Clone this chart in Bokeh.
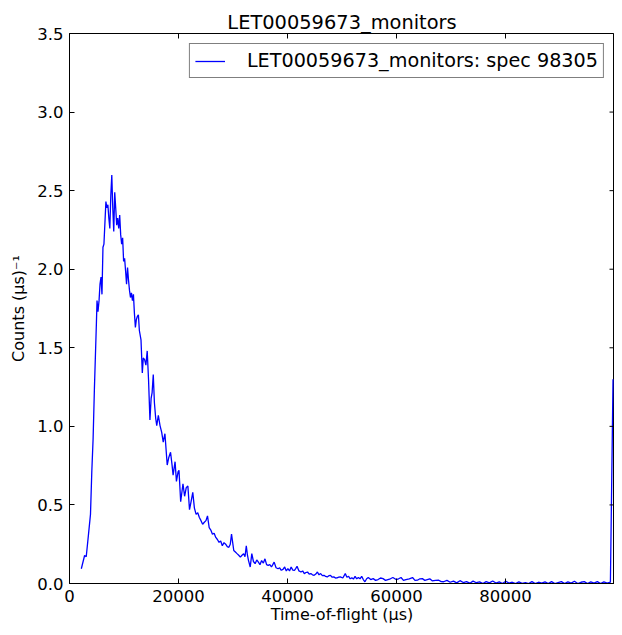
import math
from bokeh.plotting import figure
from bokeh.models import ColumnDataSource, Range1d, FixedTicker, NumeralTickFormatter
from bokeh.embed import file_html
from bokeh.resources import INLINE

# ---- data ----
tof = [
    2170, 2770, 3070, 3490, 3850, 4090, 4330, 4570, 4750, 4930, 5050, 5230, 5420, 5600,
    5780, 5960, 6140, 6320, 6680, 6860, 7040, 7220, 7400, 7580, 7760, 7940, 8120, 8300,
    8480, 8660, 8840, 9030, 9210, 9390, 9570, 9750, 9930, 10110, 10290, 10470, 10650,
    10830, 11010, 11190, 11370, 11550, 11730, 11910, 12090, 12270, 12450, 12640, 12820,
    13120, 13360, 13540, 13780, 14020, 14260, 14500, 14760, 14980, 15160, 15370, 15580,
    15820, 16010, 16300, 16610, 16910, 17200, 17510, 17930, 18200, 18540, 18800, 19010,
    19370, 19620, 19920, 20090, 20400, 20820, 21120, 21420, 21720, 22020, 22300, 22620,
    22920, 23230, 23530, 23830, 24130, 24430, 24740, 25040, 25320, 25630, 25930, 26230,
    26540, 26840, 27140, 27440, 27740, 28040, 28350, 28650, 28950, 29240, 29500, 29730,
    30140, 30440, 30740, 31050, 31350, 31650, 31950, 32200, 32440, 32650, 32850, 33160,
    33450, 33750, 34060, 34360, 34660, 34950, 35250, 35570, 35870, 36160, 36460, 36760,
    37060, 37300, 37550, 37900, 38270, 38560, 38860, 39170, 39480, 39780, 40070, 40370,
    40670, 40980, 41280, 41500, 41750, 42100, 42470, 42780, 43090, 43380, 43680, 43980,
    44280, 44580, 44890, 45190, 45490, 45780, 46080, 46400, 46700, 47000, 47290, 47590,
    47890, 48200, 48500, 48800, 49100, 49400, 49690, 50150, 50600, 50900, 51210, 51500,
    51800, 52100, 52400, 52700, 53010, 53310, 53610, 53910, 54210, 54520, 54820, 55270,
    55720, 56170, 56620, 57070, 57530, 57980, 58430, 58880, 59330, 59930, 60380, 60830,
    61280, 61730, 62340, 62940, 63390, 63840, 64290, 64740, 65200, 65650, 66100, 66550,
    67150, 67750, 68200, 68650,
    69250, 69850, 70450, 71050, 71650, 72250, 72850, 73450, 74050, 74650, 75250, 75850,
    76450, 77050, 77650, 78250, 78850, 79450, 80050, 80650, 81250, 81850, 82450, 83050,
    83650, 84250, 84850, 85450, 86050, 86650, 87250, 87850, 88450, 89050, 89650, 90250,
    90850, 91450, 92050, 92650, 93250, 93850, 94450, 95050, 95650, 96250, 96850, 97450,
    98050, 98650, 99250, 99730,
]
counts = [
    0.094, 0.178, 0.17, 0.314, 0.44, 0.71, 0.92, 1.24, 1.445, 1.65, 1.80, 1.73, 1.80, 1.905,
    1.95, 1.84, 2.14, 2.16, 2.43, 2.39, 2.41, 2.325, 2.26, 2.47, 2.60, 2.39, 2.24, 2.49,
    2.39, 2.28, 2.325, 2.26, 2.345, 2.22, 2.16, 2.20, 2.05, 2.07, 1.99, 1.905, 2.01,
    1.93, 1.865, 1.82, 1.85, 1.80, 1.84, 1.72, 1.63, 1.68, 1.70, 1.71, 1.61,
    1.55, 1.34, 1.435, 1.425, 1.39, 1.48, 1.30, 1.04, 1.18, 1.215, 1.33, 1.15,
    1.05, 1.005, 1.07, 1.005, 0.963, 0.90, 0.953, 0.754, 0.80, 0.835, 0.76, 0.69,
    0.775, 0.65, 0.71, 0.72, 0.52, 0.635, 0.555, 0.61, 0.62, 0.47, 0.52, 0.58,
    0.48, 0.44, 0.45, 0.42, 0.40, 0.377, 0.39, 0.40, 0.43, 0.356, 0.34, 0.314,
    0.32, 0.293, 0.28, 0.262, 0.27, 0.24, 0.26, 0.25, 0.235, 0.23, 0.25, 0.314,
    0.21, 0.20, 0.19, 0.18, 0.168, 0.18, 0.19, 0.17, 0.24, 0.18, 0.146, 0.105,
    0.19, 0.14, 0.126, 0.15, 0.136, 0.12, 0.146, 0.13, 0.157, 0.12, 0.115, 0.12,
    0.105, 0.12, 0.136, 0.10, 0.094, 0.10, 0.084, 0.09, 0.105, 0.08, 0.094, 0.08,
    0.105, 0.085, 0.084, 0.095, 0.109, 0.08, 0.073, 0.08, 0.063, 0.07, 0.073, 0.06,
    0.063, 0.055, 0.052, 0.06, 0.073, 0.055, 0.063, 0.05, 0.052, 0.045, 0.042, 0.05,
    0.052, 0.04, 0.042, 0.035, 0.036, 0.04, 0.042, 0.035, 0.063, 0.04, 0.046, 0.03,
    0.036, 0.028, 0.046, 0.03, 0.038, 0.03, 0.046, 0.025, 0.011, 0.03, 0.038, 0.025,
    0.031, 0.02, 0.025, 0.035, 0.031, 0.02, 0.025, 0.03, 0.038, 0.025, 0.03, 0.038,
    0.02, 0.025, 0.03, 0.038, 0.02, 0.021, 0.03, 0.031, 0.02, 0.025, 0.03, 0.017,
    0.02, 0.021, 0.012, 0.011,
    0.02, 0.008, 0.015, 0.004, 0.018, 0.006, 0.012, 0.002, 0.015, 0.005, 0.01, 0.0,
    0.012, 0.004, 0.016, 0.003, 0.01, 0.0, 0.014, 0.002, 0.008, 0.0, 0.01, 0.001,
    0.006, 0.0, 0.012, 0.0, 0.008, 0.002, 0.01, 0.0, 0.012, 0.0, 0.006, 0.012,
    0.0, 0.01, 0.002, 0.014, 0.0, 0.008, 0.012, 0.0, 0.01, 0.002, 0.012, 0.0,
    0.01, 0.002, 0.008, 1.3,
]
x_ticks = [0, 20000, 40000, 60000, 80000]
y_ticks = [0.0, 0.5, 1.0, 1.5, 2.0, 2.5, 3.0, 3.5]
title_text = "LET00059673_monitors"
series_label = "LET00059673_monitors: spec 98305"
x_label = "Time-of-flight (\u03bcs)"
y_label = "Counts (\u03bcs)\u207b\u00b9"

FONT = "DejaVu Sans"
X_MAX = 100000
Y_MAX = 3.5

source = ColumnDataSource(data=dict(x=tof, y=counts))

p = figure(width=614, height=627, output_backend="svg", toolbar_location=None,
           x_range=Range1d(0, X_MAX), y_range=Range1d(0, Y_MAX),
           min_border_left=69, min_border_right=0, min_border_top=33,
           min_border_bottom=44, title=title_text)

p.line("x", "y", source=source, line_color="#0000ff", line_width=1.3,
       legend_label=series_label)

p.xgrid.visible = False
p.ygrid.visible = False
p.outline_line_color = "black"
p.outline_line_width = 1
p.background_fill_color = "white"
p.border_fill_color = "white"

p.title.text_font = FONT
p.title.text_font_size = "19.4px"
p.title.text_font_style = "normal"
p.title.text_color = "black"
p.title.align = "center"
p.title.standoff = 0

for ax, ticks in ((p.xaxis[0], x_ticks), (p.yaxis[0], y_ticks)):
    ax.ticker = FixedTicker(ticks=ticks)
    ax.major_tick_in = 5
    ax.major_tick_out = 0
    ax.minor_tick_in = 0
    ax.minor_tick_out = 0
    ax.major_label_text_font = FONT
    ax.major_label_text_font_size = "16.5px"
    ax.major_label_text_color = "black"
    ax.axis_label_text_font = FONT
    ax.axis_label_text_font_size = "16px"
    ax.axis_label_text_font_style = "normal"
    ax.axis_label_text_color = "black"
    ax.axis_line_color = "black"

p.xaxis[0].formatter = NumeralTickFormatter(format="0")
p.yaxis[0].formatter = NumeralTickFormatter(format="0.0")
p.xaxis[0].axis_label = x_label
p.yaxis[0].axis_label = y_label
p.xaxis[0].major_label_standoff = 6
p.yaxis[0].major_label_standoff = 6
p.xaxis[0].axis_label_standoff = 0
p.yaxis[0].axis_label_standoff = 6

# mirrored inward tick marks on the top and right edges of the frame
p.ray(x=x_ticks, y=[Y_MAX] * len(x_ticks), length=5, length_units="screen",
      angle=-math.pi / 2, line_color="black", line_width=1)
p.ray(x=[X_MAX] * len(y_ticks), y=y_ticks, length=5, length_units="screen",
      angle=math.pi, line_color="black", line_width=1)

leg = p.legend[0]
leg.location = "top_right"
leg.margin = 10
leg.padding = 5
leg.spacing = 0
leg.glyph_width = 30
leg.label_standoff = 22
leg.label_text_font = FONT
leg.label_text_font_size = "19.2px"
leg.label_text_color = "black"
leg.border_line_color = "black"
leg.border_line_width = 1
leg.background_fill_alpha = 1.0

open("out.html", "w").write(file_html(p, INLINE))
